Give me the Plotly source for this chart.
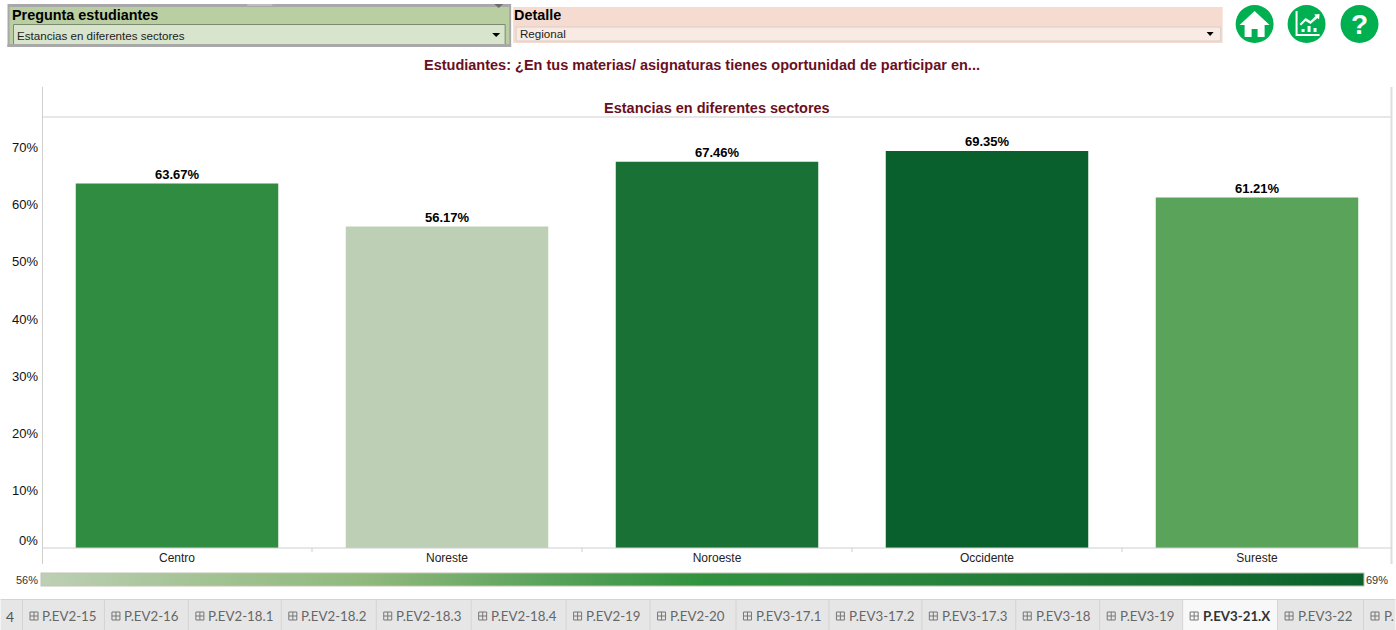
import plotly.graph_objects as go

regions = ["Centro", "Noreste", "Noroeste", "Occidente", "Sureste"]
values = [63.67, 56.17, 67.46, 69.35, 61.21]
y_ticks = [10, 20, 30, 40, 50, 60, 70]
tabs = ["P.EV2-15", "P.EV2-16", "P.EV2-18.1", "P.EV2-18.2", "P.EV2-18.3", "P.EV2-18.4", "P.EV2-19",
        "P.EV2-20", "P.EV3-17.1", "P.EV3-17.2", "P.EV3-17.3", "P.EV3-18", "P.EV3-19", "P.EV3-21.X",
        "P.EV3-22", "P."]
tab_edges = [22, 104, 188, 281, 376, 471, 566, 650, 736, 829, 922, 1016, 1100, 1183, 1278, 1364, 1396]

FW, FH = 1396, 630
L, R, T, B = 41.5, 1392.5, 117, 548
PW, PH = R - L, B - T
FONT = "Liberation Sans"
MAROON = "#6a0f1e"
GREEN = "#00b050"
LINE = "#cfcfcf"

def X(px): return (px - L) / PW
def Y(py): return (B - py) / PH

shapes, annots = [], []

def rect(x0, y0, x1, y1, fill, line=None, lw=1):
    shapes.append(dict(type="rect", xref="paper", yref="paper", x0=X(x0), x1=X(x1), y0=Y(y1), y1=Y(y0),
                       fillcolor=fill, line=dict(color=line or fill, width=lw if line else 0), layer="above"))

def seg(x0, y0, x1, y1, color=LINE, w=1):
    shapes.append(dict(type="line", xref="paper", yref="paper", x0=X(x0), x1=X(x1), y0=Y(y0), y1=Y(y1),
                       line=dict(color=color, width=w), layer="above"))

def poly(pts, fill="white"):
    p = "M " + " L ".join(f"{X(a):.5f} {Y(b):.5f}" for a, b in pts) + " Z"
    shapes.append(dict(type="path", xref="paper", yref="paper", path=p, fillcolor=fill, line=dict(width=0), layer="above"))

def circle(cx, cy, r, fill):
    shapes.append(dict(type="circle", xref="paper", yref="paper", x0=X(cx - r), x1=X(cx + r), y0=Y(cy + r), y1=Y(cy - r),
                       fillcolor=fill, line=dict(width=0), layer="above"))

def text(px, py, s, size=12, color="#111111", bold=False, anchor="left", family=FONT):
    annots.append(dict(xref="paper", yref="paper", x=X(px), y=Y(py), text=f"<b>{s}</b>" if bold else s, showarrow=False,
                       xanchor=anchor, yanchor="middle", font=dict(family=family, size=size, color=color),
                       borderpad=0, borderwidth=0))

# Filter: Pregunta estudiantes
rect(7, 4, 511, 47, "#a8a8a8")
rect(9, 7, 509, 44, "#b9cfa2")
rect(13, 24.5, 505, 46, "#d8e4cc", "#7c8a72")
rect(7, 44, 511, 47, "#a8a8a8")
text(11, 15, "Pregunta estudiantes", 14.4, "#000000", True)
text(16, 35, "Estancias en diferentes sectores", 11.6, "#222222")
poly([(492, 33), (500, 33), (496, 37)], "#000000")
poly([(494, 4), (503, 4), (498.5, 8)], "#6e6e6e")
rect(247, 4, 272, 6, "#bdbdbd")

# Filter: Detalle
rect(513, 7, 1223, 43, "#f5dbd0")
rect(516, 27, 1221, 41, "#f9ebe3", "#d8d0cb")
text(514, 15, "Detalle", 14.4, "#000000", True)
text(520, 34, "Regional", 11.6, "#222222")
poly([(1207, 32), (1214, 32), (1210.5, 36)], "#000000")

# Action icons
for cx in (1255, 1307, 1360):
    circle(cx, 24, 19, GREEN)
poly([(1255, 11), (1270, 25), (1265, 25), (1265, 37), (1258, 37), (1258, 29), (1252, 29), (1252, 37),
      (1245, 37), (1245, 25), (1240, 25)])
poly([(1296, 11), (1298, 11), (1298, 34), (1320, 34), (1320, 36), (1296, 36)])
for bx, by in ((1302, 29), (1308, 26), (1314, 28)):
    rect(bx, by, bx + 3, 32, "white")
poly([(1300, 24), (1306, 18), (1311, 21), (1316, 16), (1314.5, 14.5), (1320, 14), (1319.5, 19.5), (1318, 18),
      (1311, 24), (1306, 21), (1301.5, 25.5)])
text(1360, 24, "?", 28, "white", True, "center")

# Headings
text(701.5, 65, "Estudiantes: ¿En tus materias/ asignaturas tienes oportunidad de participar en...", 14.5, MAROON, True, "center")
text(717, 108, "Estancias en diferentes sectores", 14.5, MAROON, True, "center")

# Chart frame
seg(42, 117, 1392, 117)
seg(42, 87, 42, 564)
seg(1392, 87, 1392, 564, "#dedede", 2)
seg(42, 548, 1392, 548)
for i in range(1, 5):
    xp = L + PW * i / 5
    seg(xp, 548, xp, 552)
text(37, 540, "0%", 13, "#111111", False, "right")

# Value labels
for name, v in zip(regions, values):
    annots.append(dict(xref="x", yref="y", x=name, y=v, text=f"<b>{v:.2f}%</b>", showarrow=False, yshift=9,
                       xanchor="center", yanchor="middle", font=dict(family=FONT, size=13, color="#000000")))

# Colour legend labels
text(37, 580, "56%", 11, "#333333", False, "right")
text(1366, 580, "69%", 11, "#333333", False, "left")

# Tabs
rect(0, 600, FW, 630, "#e6e6e6")
seg(0, 599.5, FW, 599.5, "#d4d4d4")
text(5, 616, "4", 14, "#555555", family="Lato")
for i, name in enumerate(tabs):
    x0, x1 = tab_edges[i], tab_edges[i + 1]
    active = name == "P.EV3-21.X"
    if active:
        rect(x0, 600, x1, 630, "#f8f8f8")
    seg(x0, 600, x0, 630, "#d4d4d4")
    ic = "#777777"
    shapes.append(dict(type="rect", xref="paper", yref="paper", x0=X(x0 + 7.5), x1=X(x0 + 15.5), y0=Y(620), y1=Y(612),
                       fillcolor="rgba(0,0,0,0)", line=dict(color=ic, width=1), layer="above"))
    seg(x0 + 11.5, 612, x0 + 11.5, 620, ic)
    seg(x0 + 7.5, 616, x0 + 15.5, 616, ic)
    text(x0 + 20, 616, name, 13.3, "#333333" if active else "#666666", active, family="Lato")

colorscale = [[0, "#bdcfb5"], [0.12, "#a3c394"], [0.25, "#90b87c"], [0.38, "#5aa35c"], [0.5, "#30923f"],
              [0.57, "#2f8c40"], [0.85, "#1a7235"], [1, "#09602c"]]

fig = go.Figure(go.Bar(
    x=regions, y=values, width=0.75,
    marker=dict(color=values, colorscale=colorscale, cmin=min(values), cmax=max(values), line=dict(width=0),
                colorbar=dict(orientation="h", lenmode="pixels", len=1323, thicknessmode="pixels", thickness=13,
                              x=X(40), xanchor="left", y=Y(587), yanchor="bottom", showticklabels=False, ticks="",
                              outlinecolor="#c2c2b4", outlinewidth=1, xpad=0, ypad=0)),
    cliponaxis=False,
    hovertemplate="%{x}: %{y:.2f}%<extra></extra>",
))
fig.update_layout(
    width=FW, height=FH, autosize=False,
    margin=dict(l=L, r=FW - R, t=T, b=FH - B, pad=0, autoexpand=False),
    paper_bgcolor="white", plot_bgcolor="white", showlegend=False,
    font=dict(family=FONT, size=12, color="#111111"),
    shapes=shapes, annotations=annots,
    xaxis=dict(type="category", showgrid=False, showline=False, ticks="", tickfont=dict(size=12, color="#222222"),
               ticklabelstandoff=1),
    yaxis=dict(range=[0, PH / 5.725], tickmode="array", tickvals=y_ticks, ticktext=[f"{v}%" for v in y_ticks],
               showgrid=False, zeroline=False, showline=False, ticks="", ticklabelstandoff=3,
               tickfont=dict(size=13, color="#111111")),
)
fig.write_html("out.html", config=dict(displayModeBar=False),
               post_script="document.body.style.margin='0';document.documentElement.style.overflow='hidden';")
